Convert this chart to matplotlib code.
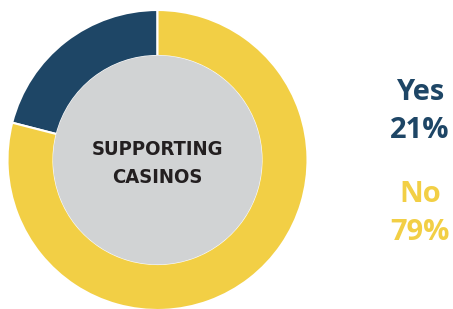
import matplotlib
matplotlib.use("Agg")
import matplotlib.pyplot as plt
from matplotlib.patches import Circle

labels = ["Yes", "No"]
values = [21, 79]
colors = ["#1e4666", "#f2cf45"]
center_title = "SUPPORTING\nCASINOS"

W, H = 453, 309
fig = plt.figure(figsize=(W/100, H/100), dpi=100)
ax = fig.add_axes([0, 0, 1, 1])

cx, cy = 157.5, H - 160
ax.pie(values, colors=colors, startangle=90, counterclock=True, radius=150,
       center=(cx, cy), frame=True,
       wedgeprops=dict(width=46, edgecolor="white", linewidth=1.5))
ax.set_xlim(0, W)
ax.set_ylim(0, H)
ax.set_aspect("equal")
ax.axis("off")
ax.add_patch(Circle((cx, cy), 104.5, facecolor="#d1d3d4", edgecolor="none", zorder=5))

ax.text(cx, H - 163.5, center_title, ha="center", va="center", fontsize=14.5,
        fontweight="bold", family="DejaVu Sans", fontstretch="condensed",
        color="#231f20", linespacing=1.65, zorder=6)

ys = [(H - 92, H - 130), (H - 195, H - 233)]
for (lab, val, col, (y1, y2)) in zip(labels, values, colors, ys):
    ax.text(420, y1, lab, ha="center", va="center", fontsize=21,
            fontweight="bold", family="Open Sans", color=col)
    ax.text(420, y2, f"{val}%", ha="center", va="center", fontsize=21,
            fontweight="bold", family="Open Sans", color=col)

fig.savefig("out.png", dpi=100)
